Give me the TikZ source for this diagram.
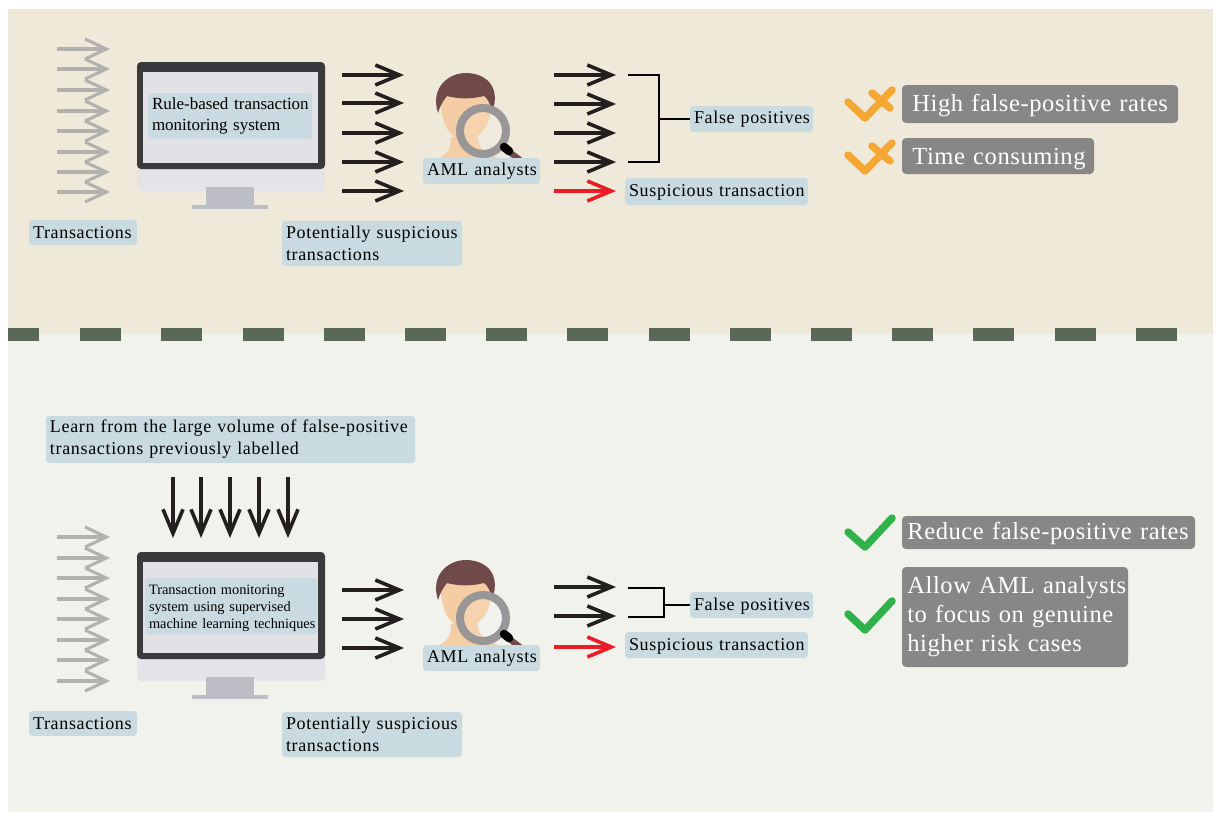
\documentclass[tikz,border=0pt]{standalone}
\usepackage{fontspec}
\setmainfont{Liberation Serif}
\newfontfamily\spacedfont[LetterSpace=3.7]{Liberation Serif}
\newfontfamily\widefont[LetterSpace=2.4]{Liberation Serif}
\usetikzlibrary{arrows.meta}
\definecolor{panelA}{HTML}{EFE9DA}
\definecolor{panelB}{HTML}{F1F2EC}
\definecolor{dashc}{HTML}{5A6858}
\definecolor{boxc}{HTML}{C9DBE0}
\definecolor{greybox}{HTML}{878787}
\definecolor{arrgrey}{HTML}{B3B1AD}
\definecolor{arrblack}{HTML}{231F1E}
\definecolor{arrred}{HTML}{EC1C24}
\definecolor{orangec}{HTML}{F5A733}
\definecolor{greenc}{HTML}{2FB24A}
\definecolor{monframe}{HTML}{3A3A3C}
\definecolor{monscreen}{HTML}{E2E1E6}
\definecolor{monchin}{HTML}{E3E3E8}
\definecolor{monstand}{HTML}{BDBDC6}
\definecolor{hairc}{HTML}{6F4A48}
\definecolor{skinc}{HTML}{F5CDA4}
\definecolor{ringc}{HTML}{989696}
\definecolor{handlec}{HTML}{6F4A48}
\tikzset{
  x=0.75pt,y=-0.75pt,
  greyarrow/.style={draw=arrgrey,line width=2.3pt,-{Straight Barb[length=16pt,width=15pt,line width=2.3pt]}},
  blackarrow/.style={draw=arrblack,line width=2.6pt,-{Straight Barb[length=18pt,width=15pt,line width=2.7pt]}},
  redarrow/.style={draw=arrred,line width=2.6pt,-{Straight Barb[length=18pt,width=15pt,line width=2.7pt]}},
  bracket/.style={draw=black,line width=1.2pt},
  tickstroke/.style={line width=5.6pt,line cap=round,line join=round},
  tagbox/.style={fill=boxc,rounded corners=2.5pt,inner xsep=3pt,inner ysep=0pt,align=left,text=black,
    font=\spacedfont\fontsize{13.5}{16.5}\selectfont},
  screenbox/.style={tagbox,font=\fontsize{12.75}{15.75}\selectfont},
  smallbox/.style={tagbox,font=\fontsize{10.75}{12.75}\selectfont,inner xsep=2pt},
  greytag/.style={fill=greybox,rounded corners=3pt,inner xsep=4pt,inner ysep=0pt,align=left,text=white,
    font=\widefont\fontsize{18.4}{21.8}\selectfont},
  monitor/.pic={
    \fill[monchin,rounded corners=3pt] (0,90) rectangle (188,129);
    \fill[monstand] (69,125) rectangle (117,143);
    \fill[monstand] (55,143) rectangle (131,147);
    \fill[monframe,rounded corners=3pt] (0,107) -- (0,0) -- (188,0) -- (188,107) -- cycle;
    \fill[monscreen] (6,10) rectangle (181,101);
  },
  person/.pic={
    \fill[skinc] (4,85) .. controls (14,78) and (15,74) .. (15,64) -- (42,64) .. controls (42,76) and (48,78) .. (62,85) -- cycle;
    \fill[skinc] (5,18) .. controls (3,52) and (14,66) .. (29,68) .. controls (44,66) and (58,52) .. (56,18) -- cycle;
    \fill[hairc] (2,40) .. controls (-6,15) and (12,0) .. (30,0) .. controls (48,0) and (66,12) .. (56,40)
      .. controls (54,30) and (52,26) .. (48,23) .. controls (32,27) and (18,25) .. (11,23) .. controls (7,28) and (4,33) .. (2,40) -- cycle;
    \fill[white,opacity=0.12] (47,58) circle (17.25pt);
    \draw[ringc,line width=6pt] (47,58) circle (17.25pt);
    \draw[handlec,line width=4.6pt] (72,78) -- (84,87);
    \draw[black,line width=6.4pt,line cap=round] (68,74) -- (73,78);
  }
}
\newcommand{\dn}[2]{\raisebox{-#1}[\height][\depth]{\mbox{#2}}}
\newcommand{\lab}[7][tagbox]{%
  \pgfmathsetlengthmacro{\bw}{(#5-#3)*0.75pt}%
  \pgfmathsetlengthmacro{\bh}{(#6-#4)*0.75pt}%
  \node[#1,minimum width=\bw,minimum height=\bh,text width=\bw-6pt] (#2) at ({(#3+#5)/2},{(#4+#6)/2}) {#7};}
\newcommand{\gtag}[6]{%
  \pgfmathsetlengthmacro{\bw}{(#4-#2)*0.75pt}%
  \pgfmathsetlengthmacro{\bh}{(#5-#3)*0.75pt}%
  \node[greytag,minimum width=\bw,minimum height=\bh,text width=\bw-8pt] (#1) at ({(#2+#4)/2},{(#3+#5)/2}) {#6};}
\begin{document}
\begin{tikzpicture}
\useasboundingbox (0,0) rectangle (1218,815);
\fill[white] (0,0) rectangle (1218,815);
\fill[panelA] (8,9) rectangle (1213,334);
\fill[panelB] (8,334) rectangle (1213,812);
\fill[dashc] (8,328) rectangle (39,341);
\foreach \i in {1,...,14}
  \fill[dashc] ({-1+81.2*\i},328) rectangle ({40+81.2*\i},341);

% ---------- top panel
\foreach \yy [count=\i] in {49,69,90,111,131,152,172,192}{
  \coordinate (ga\i) at (57,\yy); \coordinate (gb\i) at (110,\yy);
  \draw[greyarrow] (ga\i) -- (gb\i);}
\pic at (137,62) {monitor};
\lab[screenbox]{rule}{148}{93}{312}{139}{\mbox{Rule-based transaction}\\\mbox{monitoring system}}
\foreach \yy [count=\i] in {75,103,133,162,191}{
  \coordinate (ba\i) at (342,\yy); \coordinate (bb\i) at (404,\yy);
  \draw[blackarrow] (ba\i) -- (bb\i);}
\pic at (436,73) {person};
\lab{aml}{423}{158}{540}{184}{\mbox{AML analysts}}
\foreach \yy [count=\i] in {75,104,133,162}{
  \coordinate (ca\i) at (554,\yy); \coordinate (cb\i) at (616,\yy);
  \draw[blackarrow] (ca\i) -- (cb\i);}
\coordinate (ra) at (554,191); \coordinate (rb) at (616,191);
\draw[redarrow] (ra) -- (rb);
\lab{fp}{690}{106}{813}{132}{\mbox{False positives}}
\lab{st}{625}{178}{808}{205}{\dn{0.7pt}{Suspicious transaction}}
\coordinate (bt) at (628,75); \coordinate (bm) at (659,75); \coordinate (bn) at (659,162); \coordinate (bo) at (628,162); \coordinate (bc) at (659,119);
\draw[bracket] (bt) -- (bm) -- (bn) -- (bo);
\draw[bracket] (bc) -- (fp.west);
\lab{tr}{29}{220}{137}{245}{\mbox{Transactions}}
\lab{ps}{282}{221}{462}{266}{\mbox{Potentially suspicious}\\\mbox{transactions}}
\foreach \dy in {0,53}{
  \draw[orangec,tickstroke] (848,102+\dy) -- (865,118+\dy) -- (892,90+\dy);
  \draw[orangec,tickstroke] (872,93+\dy) -- (890,108+\dy);}
\gtag{high}{902}{85}{1178}{123}{\hspace*{3.75pt}\dn{1.5pt}{High false-positive rates}}
\gtag{time}{902}{138}{1094}{174}{\hspace*{3.75pt}\dn{2pt}{Time consuming}}

% ---------- bottom panel
\lab{learn}{46}{416}{415}{463}{\mbox{Learn from the large volume of false-positive}\\\mbox{transactions previously labelled}}
\foreach \xx [count=\i] in {173,201,230,259,288}{
  \coordinate (da\i) at (\xx,477); \coordinate (db\i) at (\xx,538);
  \draw[blackarrow] (da\i) -- (db\i);}
\foreach \yy [count=\i] in {537,558,578,599,619,640,660,681}{
  \coordinate (ha\i) at (57,\yy); \coordinate (hb\i) at (110,\yy);
  \draw[greyarrow] (ha\i) -- (hb\i);}
\pic at (137,552) {monitor};
\lab[smallbox]{tm}{145}{578}{317}{634}{\dn{1.5pt}{Transaction monitoring}\\\dn{1.5pt}{system using supervised}\\\dn{1.5pt}{machine learning techniques}}
\foreach \yy [count=\i] in {590,619,648}{
  \coordinate (ia\i) at (342,\yy); \coordinate (ib\i) at (404,\yy);
  \draw[blackarrow] (ia\i) -- (ib\i);}
\pic at (436,560) {person};
\lab{aml2}{423}{645}{540}{671}{\mbox{AML analysts}}
\foreach \yy [count=\i] in {587,616}{
  \coordinate (ja\i) at (554,\yy); \coordinate (jb\i) at (616,\yy);
  \draw[blackarrow] (ja\i) -- (jb\i);}
\coordinate (sa) at (554,647); \coordinate (sb) at (616,647);
\draw[redarrow] (sa) -- (sb);
\lab{fp2}{690}{592}{813}{618}{\dn{1.2pt}{False positives}}
\lab{st2}{625}{632}{808}{658}{\dn{1.3pt}{Suspicious transaction}}
\coordinate (kt) at (628,588); \coordinate (km) at (664,588); \coordinate (kn) at (664,617); \coordinate (ko) at (628,617); \coordinate (kc) at (664,605);
\draw[bracket] (kt) -- (km) -- (kn) -- (ko);
\draw[bracket] (kc) -- (fp2.west);
\lab{tr2}{29}{711}{137}{736}{\mbox{Transactions}}
\lab{ps2}{282}{712}{462}{757}{\mbox{Potentially suspicious}\\\mbox{transactions}}
\draw[greenc,tickstroke] (848,532) -- (865,547) -- (892,518);
\draw[greenc,tickstroke] (848,614) -- (865,630) -- (892,601);
\gtag{reduce}{902}{516}{1195}{549}{\dn{0.7pt}{Reduce false-positive rates}}
\gtag{allow}{902}{567}{1128}{667}{\dn{0pt}{Allow AML analysts}\\\dn{0pt}{to focus on genuine}\\\dn{0pt}{higher risk cases}}
\end{tikzpicture}
\end{document}
